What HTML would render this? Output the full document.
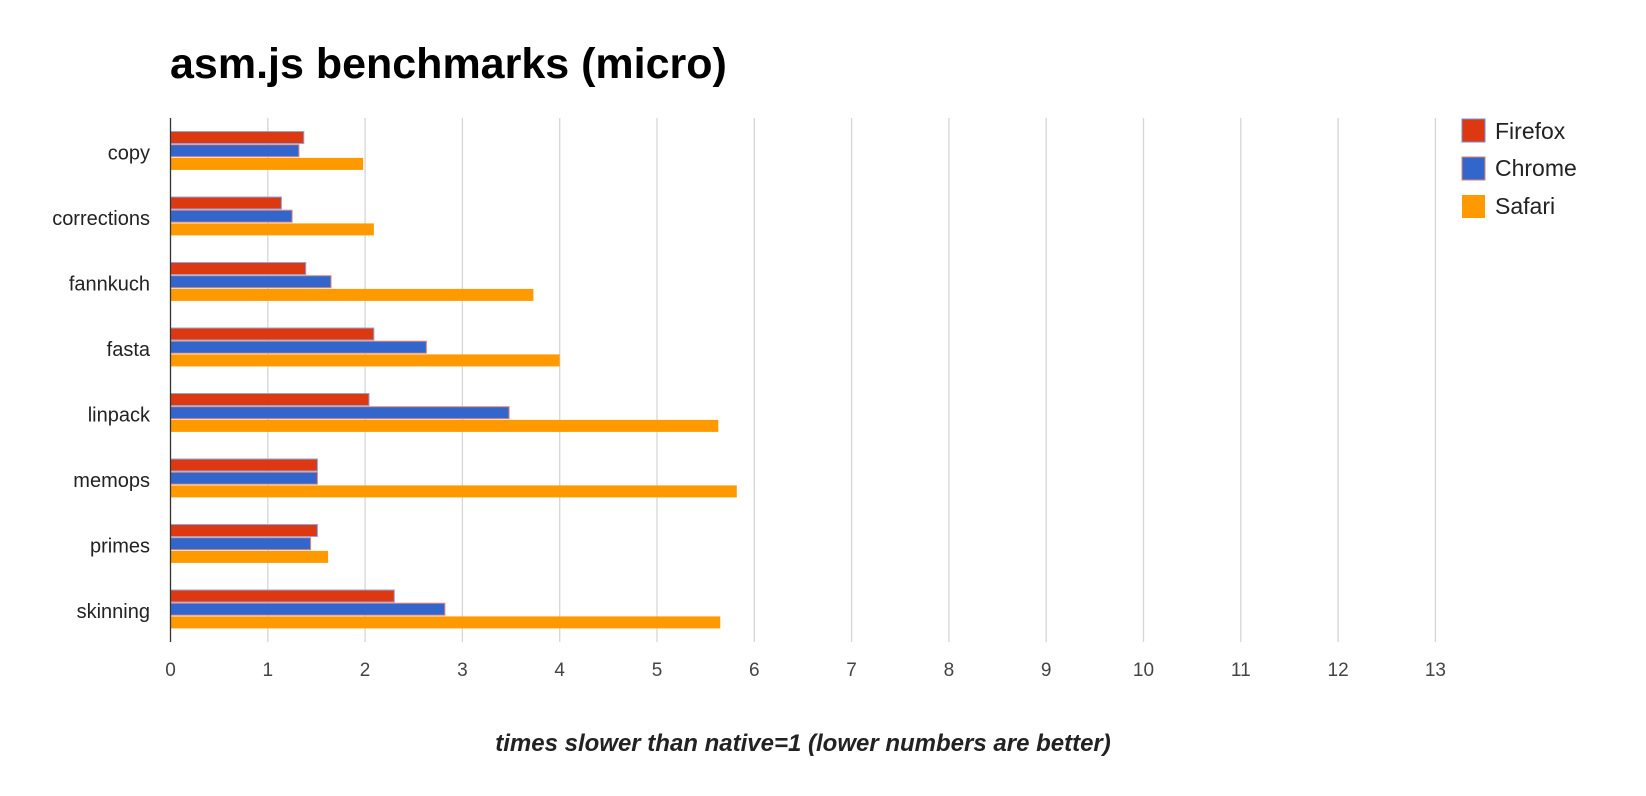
<!DOCTYPE html>
<html><head><meta charset="utf-8"><style>
body{margin:0;background:#fff;}
svg{display:block;font-family:"Liberation Sans",Arial,sans-serif;}
</style></head><body>
<svg id="chart" width="1646" height="796">
<text x="170" y="78" font-size="43" font-weight="bold" fill="#000">asm.js benchmarks (micro)</text>
<g id="grid"></g><g id="bars"></g><g id="labels"></g>
<line x1="170.5" y1="118" x2="170.5" y2="642" stroke="#333" stroke-width="1.3"/>
<text x="803" y="751" text-anchor="middle" font-size="24" font-weight="bold" font-style="italic" fill="#222">times slower than native=1 (lower numbers are better)</text>
<g>
<rect x="1462" y="119" width="23" height="23" fill="#dc3912" stroke="#6f8fd6"/>
<text x="1495" y="139" font-size="23" fill="#222">Firefox</text>
<rect x="1462" y="157" width="23" height="23" fill="#3366cc" stroke="#e0806b"/>
<text x="1495" y="176" font-size="23" fill="#222">Chrome</text>
<rect x="1462" y="195" width="23" height="23" fill="#ff9900"/>
<text x="1495" y="214" font-size="23" fill="#222">Safari</text>
</g>
</svg>
<script>
const categories=["copy","corrections","fannkuch","fasta","linpack","memops","primes","skinning"];
const firefox=[1.37,1.14,1.39,2.09,2.04,1.51,1.51,2.30];
const chrome=[1.32,1.25,1.65,2.63,3.48,1.51,1.44,2.82];
const safari=[1.98,2.09,3.73,4.00,5.63,5.82,1.62,5.65];
const ticks=[0,1,2,3,4,5,6,7,8,9,10,11,12,13];
const NS="http://www.w3.org/2000/svg";
const x0=170.5,unit=97.3,plotTop=118,band=65.5;
const xs=v=>x0+v*unit;
function mk(t,a,p){const e=document.createElementNS(NS,t);for(const k in a)e.setAttribute(k,a[k]);p.appendChild(e);return e;}
const grid=document.getElementById('grid'),bars=document.getElementById('bars'),labels=document.getElementById('labels');
ticks.forEach(t=>{
 if(t>0){const l=mk('line',{x1:xs(t),x2:xs(t),y1:plotTop,y2:642,stroke:'#d6d6d6','stroke-width':1.3},grid);
 
 }
 const tx=mk('text',{x:xs(t),y:676,'text-anchor':'middle','font-size':19,fill:'#444'},labels);
 tx.textContent=t;
 
 
});
const series=[[firefox,'#dc3912','#8ea6e0','firefox'],[chrome,'#3366cc','#e58a78','chrome'],[safari,'#ff9900','none','safari']];
categories.forEach((c,i)=>{
 const y0=plotTop+i*band+13.5;
 const tx=mk('text',{x:150,y:y0+28,'text-anchor':'end','font-size':20,fill:'#222'},labels);
 tx.textContent=c;
 
 
 series.forEach((s,j)=>{
  const r=mk('rect',{x:x0,y:y0+j*13.2,width:xs(s[0][i])-x0,height:12,fill:s[1],stroke:s[2],'stroke-width':1},bars);
  
  
 });
});
</script>
</body></html>
